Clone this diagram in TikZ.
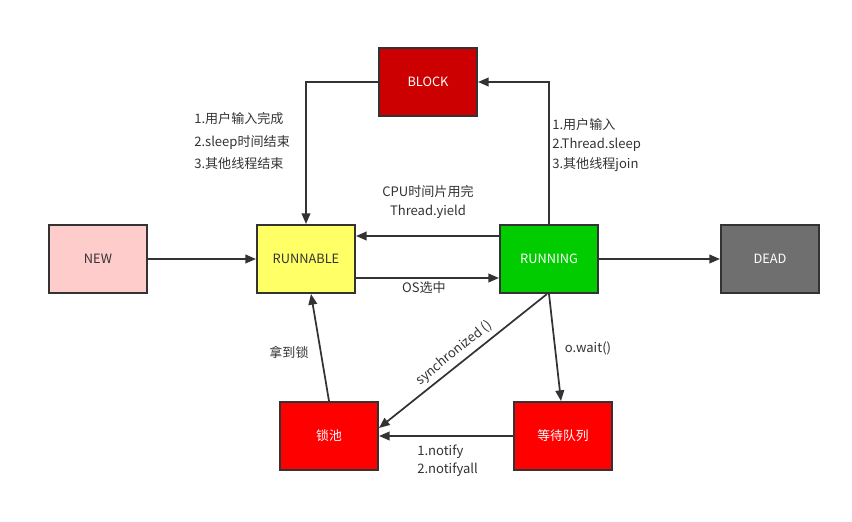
\documentclass[tikz,border=0pt]{standalone}
\usepackage{fontspec}
\setmainfont{Noto Sans CJK SC}
\usepackage{tikz}
\usetikzlibrary{arrows.meta}
\definecolor{newc}{HTML}{FFCCCC}
\definecolor{runnablec}{HTML}{FFFF66}
\definecolor{runningc}{HTML}{00CC00}
\definecolor{deadc}{HTML}{6F6F6F}
\definecolor{blockc}{HTML}{CC0000}
\definecolor{poolc}{HTML}{FF0000}
\definecolor{linec}{HTML}{333333}

\begin{document}
\begin{tikzpicture}[x=0.75pt, y=-0.75pt,
  state/.style={draw=linec, line width=1.5pt, minimum width=73.5pt, minimum height=51pt, inner sep=0pt, font=\fontsize{9.6pt}{11pt}\selectfont, text=white},
  link/.style={draw=linec, line width=1.3pt, -{Triangle[length=8pt, width=6.5pt]}},
  lbl/.style={text=linec, inner sep=0pt, font=\fontsize{9.8pt}{11pt}\selectfont}]

\useasboundingbox (0,0) rectangle (852,521);

\node (new) at (98,259) [state, fill=newc, text=linec] {NEW};
\node (runnable) at (306,259) [state, fill=runnablec, text=linec] {RUNNABLE};
\node (running) at (549,259) [state, fill=runningc] {RUNNING};
\node (dead) at (770,259) [state, fill=deadc] {DEAD};
\node (block) at (428,82) [state, fill=blockc] {BLOCK};
\node (pool) at (329,436) [state, fill=poolc] {锁池};
\node (waitq) at (563,436) [state, fill=poolc] {等待队列};

\node (unblock) at (194,141) [lbl, anchor=west, align=left, font=\fontsize{9.8pt}{17.2pt}\selectfont] {1.用户输入完成\\ 2.sleep时间结束\\ 3.其他线程结束};
\node (toblock) at (552,145) [lbl, anchor=west, align=left, font=\fontsize{9.8pt}{14.6pt}\selectfont] {1.用户输入\\2.Thread.sleep\\3.其他线程join};
\node (yield) at (428,202) [lbl, align=center, font=\fontsize{9.8pt}{14.3pt}\selectfont] {CPU时间片用完\\Thread.yield};
\node (os) at (424,288) [lbl] {OS选中};
\node (owait) at (588,348) [lbl] {o.wait()};
\node (getlock) at (289,352) [lbl] {拿到锁};
\node (sync) at (454,353) [lbl, rotate=39] {synchronized ()};
\node (notify) at (417,461) [lbl, anchor=west, align=left, font=\fontsize{9.8pt}{13.5pt}\selectfont] {1.notify\\ 2.notifyall};

\draw [link] (new) -- (runnable);
\draw [link] ([yshift=-14.25pt]runnable.east) -- ([yshift=-14.25pt]running.west);
\draw [link] ([yshift=17.25pt]running.west) -- ([yshift=17.25pt]runnable.east);
\draw [link] (running) -- (dead);
\draw [link] (running.north) |- (block.east);
\draw [link] (block.west) -| (runnable.north);
\draw [link] ([xshift=-1.5pt]running.south) -- ([yshift=6pt]pool.east);
\draw [link] (running.south) -- ([xshift=-1.5pt]waitq.north);
\draw [link] (waitq) -- (pool);
\draw [link] (pool.north) -- ([xshift=3.75pt]runnable.south);

\end{tikzpicture}
\end{document}
